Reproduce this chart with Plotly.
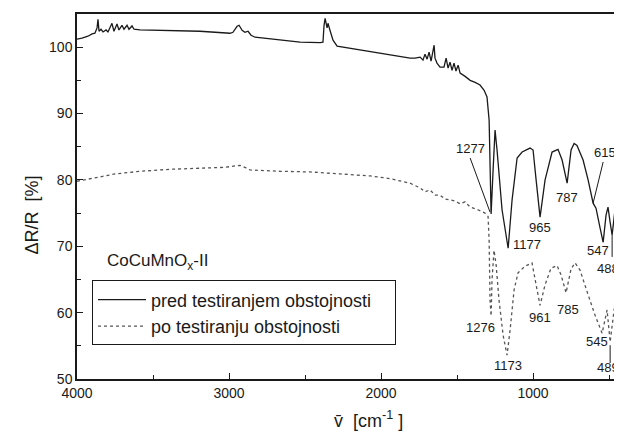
import plotly.graph_objects as go

# Wavenumbers (cm^-1) and reflectance change (%)
wn_pred = [4000, 3967, 3928, 3901, 3882, 3868, 3862, 3855, 3842, 3829, 3809, 3796, 3770, 3757,
           3737, 3724, 3704, 3691, 3671, 3658, 3638, 3625, 3586, 3388, 3191, 2993, 2974, 2947,
           2934, 2914, 2895, 2875, 2855, 2829, 2664, 2533, 2401, 2382, 2375, 2368, 2355, 2349,
           2336, 2316, 2289, 2138, 1941, 1809, 1776, 1743, 1724, 1711, 1697, 1684, 1671, 1658,
           1651, 1645, 1632, 1612, 1586, 1572, 1559, 1546, 1533, 1520, 1507, 1493, 1480, 1447,
           1414, 1381, 1349, 1322, 1303, 1289, 1283, 1276, 1263, 1250, 1237, 1204, 1164, 1138,
           1105, 1072, 1020, 1000, 980, 954, 921, 875, 836, 809, 776, 750, 730, 711, 671, 638,
           605, 586, 559, 539, 520, 507, 493, 480, 461, 441, 415]
r_pred = [101.2, 101.35, 101.65, 102.0, 102.1, 102.9, 104.2, 102.4, 102.7, 102.3, 102.6, 102.3,
          103.6, 102.4, 103.5, 102.6, 103.3, 102.7, 103.3, 102.7, 103.2, 102.7, 102.6, 102.55,
          102.4, 102.1, 102.25, 103.15, 103.3, 102.55, 102.25, 102.4, 101.8, 101.5, 101.05,
          100.75, 100.7, 100.75, 103.3, 104.35, 102.9, 103.6, 102.55, 101.05, 100.15, 99.55,
          98.8, 98.35, 98.35, 98.5, 98.05, 98.95, 98.2, 99.25, 97.9, 99.7, 100.3, 98.35, 97.6,
          97.0, 97.0, 98.35, 96.85, 97.75, 96.5, 97.6, 96.4, 97.3, 96.1, 95.6, 95.0, 94.7, 94.3,
          93.5, 92.5, 89.0, 80.0, 74.85, 81.5, 87.5, 84.5, 75.5, 69.7, 77.0, 83.3, 84.2, 84.8,
          84.5, 80.0, 74.4, 80.0, 84.2, 84.6, 83.0, 79.5, 84.5, 85.5, 85.2, 83.0, 80.0, 76.5,
          75.75, 72.75, 70.6, 74.7, 75.9, 73.6, 71.7, 75.5, 80.0, 83.0]

wn_po = [4000, 3947, 3882, 3816, 3750, 3684, 3586, 3388, 3191, 3026, 2961, 2928, 2888, 2862,
         2664, 2467, 2270, 2072, 1941, 1809, 1743, 1711, 1678, 1645, 1612, 1579, 1546, 1513,
         1480, 1447, 1414, 1362, 1316, 1296, 1289, 1283, 1276, 1270, 1257, 1243, 1224, 1197,
         1171, 1151, 1125, 1099, 1053, 1007, 980, 954, 921, 882, 842, 816, 783, 750, 724, 691,
         638, 592, 546, 526, 513, 493, 467, 441, 415]
r_po = [79.8, 80.0, 80.3, 80.6, 80.9, 81.1, 81.3, 81.6, 81.8, 81.9, 82.1, 82.2, 81.8, 81.5,
        81.3, 81.2, 80.9, 80.6, 80.2, 79.5, 78.8, 78.2, 78.5, 77.7, 77.7, 77.1, 77.0, 76.8,
        76.4, 76.7, 75.9, 75.5, 75.0, 74.5, 70.9, 61.9, 59.5, 64.9, 69.4, 67.2, 61.9, 56.6,
        53.6, 57.4, 63.4, 66.0, 67.0, 67.5, 64.2, 61.1, 64.2, 66.7, 67.1, 65.7, 63.0, 66.6,
        67.5, 66.4, 62.7, 59.6, 56.9, 59.2, 60.4, 55.6, 60.4, 63.4, 64.9]

series_names = ["pred testiranjem obstojnosti", "po testiranju obstojnosti"]

# Peak labels: text, wavenumber, value
peak_text = ["1277", "1177", "965", "787", "615", "547", "488",
             "1276", "1173", "961", "785", "545", "489"]
peak_wn = [1414, 1039, 954, 776, 526, 572, 507, 1349, 1164, 954, 770, 579, 507]
peak_val = [84.8, 70.2, 72.9, 77.4, 84.2, 69.4, 66.7, 57.8, 52.1, 59.2, 60.4, 55.6, 51.8]

# Leader lines: (wn0, v0, wn1, v1)
leaders = [(1414, 83.3, 1283, 75.15), (539, 82.7, 605, 76.5),
           (480, 71.7, 480, 68.4), (493, 55.1, 493, 52.4)]

FONT = "Arial, Liberation Sans, sans-serif"
INK = "#1a1a1a"
PAD = "\u2003"  # em space: widens the legend box to the reference's size

fig = go.Figure()
fig.add_trace(go.Scatter(x=wn_pred, y=r_pred, mode="lines", name=series_names[0] + PAD,
                         line=dict(color=INK, width=1.3)))
fig.add_trace(go.Scatter(x=wn_po, y=r_po, mode="lines", name=series_names[1] + PAD,
                         line=dict(color="#555555", width=1.3, dash="dot")))

for t, x, y in zip(peak_text, peak_wn, peak_val):
    fig.add_annotation(x=x, y=y, text=t, showarrow=False,
                       font=dict(family=FONT, size=13, color=INK))
for x0, y0, x1, y1 in leaders:
    fig.add_shape(type="line", x0=x0, y0=y0, x1=x1, y1=y1,
                  line=dict(color=INK, width=1))

fig.add_annotation(x=3816, y=67.6, text="CoCuMnO<sub>x</sub>-II", showarrow=False,
                   xanchor="left", font=dict(family=FONT, size=17, color=INK))

# axis titles as paper-positioned text
fig.add_annotation(xref="paper", yref="paper", x=-0.105, y=0.45, text="\u0394R/R  [%]",
                   textangle=-90, showarrow=False, font=dict(family=FONT, size=18, color=INK))
fig.add_annotation(xref="paper", yref="paper", x=0.535, y=-0.075, yanchor="top",
                   text="v\u0304  [cm<sup>-1</sup> ]", showarrow=False,
                   font=dict(family=FONT, size=18, color=INK))

# page body adds an 8px offset; size the figure so the plot sits where the reference has it
fig.update_layout(
    width=614, height=431,
    margin=dict(l=69, r=0, t=6, b=60, autoexpand=False),
    paper_bgcolor="white", plot_bgcolor="white",
    font=dict(family=FONT, size=14, color=INK),
    showlegend=True,
    legend=dict(x=0.0275, y=0.27, xanchor="left", yanchor="top",
                bordercolor=INK, borderwidth=1, bgcolor="rgba(255,255,255,0)",
                font=dict(family=FONT, size=18, color=INK),
                itemwidth=48, tracegroupgap=0),
    xaxis=dict(range=[4000, 415], tickvals=[4000, 3000, 2000, 1000], automargin=False,
               ticks="inside", ticklen=6, tickcolor=INK, showline=True, linecolor=INK,
               linewidth=1.5, mirror=True, showgrid=False, zeroline=False,
               minor=dict(tickvals=[3500, 2500, 1500, 500], ticks="inside", ticklen=4, tickcolor=INK)),
    yaxis=dict(range=[50, 105], tickvals=[50, 60, 70, 80, 90, 100], automargin=False,
               ticks="inside", ticklen=6, tickcolor=INK, showline=True, linecolor=INK,
               linewidth=1.5, mirror=False, showgrid=False, zeroline=False,
               minor=dict(tickvals=[55, 65, 75, 85, 95], ticks="inside", ticklen=4, tickcolor=INK)),
)

fig.write_html("out.html")
